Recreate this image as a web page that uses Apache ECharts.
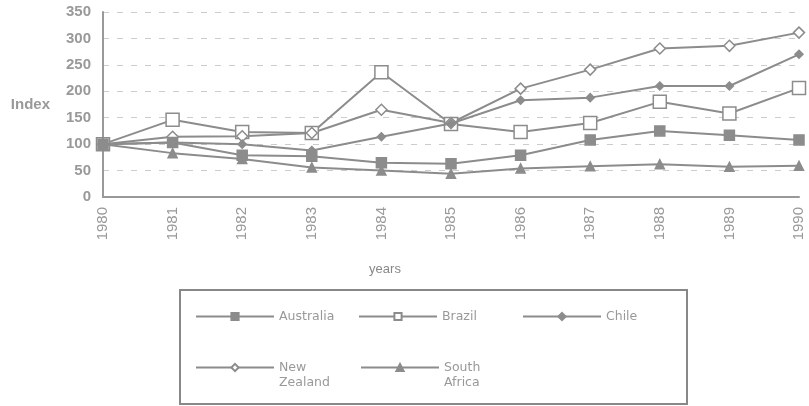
<!DOCTYPE html>
<html>
<head>
<meta charset="utf-8">
<script src="https://cdn.jsdelivr.net/npm/echarts@6/dist/echarts.min.js"></script>
<style>
  html, body { margin: 0; padding: 0; background: #fff; }
  #chart { width: 809px; height: 406px; }
</style>
</head>
<body>
<div id="chart"></div>
<script>
const years = ['1980', '1981', '1982', '1983', '1984', '1985', '1986', '1987', '1988', '1989', '1990']
const australia = [100, 103, 79, 77, 65, 63, 79, 108, 125, 117, 108]
const brazil = [100, 146, 123, 121, 236, 138, 123, 140, 180, 158, 206]
const chile = [100, 103, 100, 88, 114, 139, 183, 188, 210, 210, 270]
const newZealand = [100, 114, 115, 121, 165, 140, 205, 241, 281, 286, 311]
const southAfrica = [100, 83, 72, 56, 50, 44, 54, 58, 62, 57, 59]

const grey = '#8c8c8c'
const font = 'Liberation Sans'
const legendFont = 'DejaVu Sans'

const chart = echarts.init(document.getElementById('chart'))

function series(name, data, symbol, size, filled) {
  return {
    name,
    type: 'line',
    data,
    symbol,
    symbolSize: size,
    showAllSymbol: true,
    lineStyle: { color: grey, width: 2 },
    itemStyle: {
      color: filled ? grey : '#fff',
      borderColor: grey,
      borderWidth: 1.5
    },
    emphasis: { disabled: true },
    z: filled ? 3 : 2
  }
}

const legendText = { color: '#999', fontSize: 12.5, fontFamily: legendFont, lineHeight: 15 }

function legendItem(name, left, top, extra) {
  return Object.assign({
    data: [name],
    left,
    top,
    orient: 'horizontal',
    itemWidth: 78,
    itemHeight: 9,
    itemGap: 0,
    padding: 0,
    textStyle: legendText
  }, extra || {})
}

// blank first line so that the first real line sits level with the symbol
const twoLine = (a, b) => () => '\u00a0\n' + a + '\n' + b

const option = {
  backgroundColor: '#fff',
  animation: false,
  grid: { left: 103, right: 10, top: 12, bottom: 209, outerBoundsMode: 'none' },
  xAxis: {
    type: 'category',
    data: years,
    boundaryGap: false,
    name: 'years',
    nameLocation: 'middle',
    nameGap: 66,
    nameTextStyle: { color: '#888', fontSize: 13, fontFamily: font, padding: [0, 132, 0, 0] },
    axisLine: { lineStyle: { color: '#999', width: 2 } },
    axisTick: { show: false },
    axisLabel: { rotate: 90, color: '#999', fontSize: 15, fontFamily: font, margin: 10 }
  },
  yAxis: {
    type: 'value',
    min: 0,
    max: 350,
    interval: 50,
    name: 'Index',
    nameLocation: 'middle',
    nameRotate: 0,
    nameGap: 53,
    nameTextStyle: { color: '#999', fontSize: 15, fontWeight: 'bold', fontFamily: font, padding: [0, 0, 52, 0] },
    axisLine: { show: true, lineStyle: { color: '#999', width: 2 } },
    axisTick: { show: false },
    axisLabel: { color: '#999', fontSize: 15, fontWeight: 'bold', fontFamily: font, margin: 12 },
    splitLine: { lineStyle: { color: '#ccc', type: [6, 8], width: 1 } }
  },
  legend: [
    legendItem('Australia', 195, 309),
    legendItem('Brazil', 358, 309),
    legendItem('Chile', 522, 309),
    legendItem('New Zealand', 195, 345, { formatter: twoLine('New', 'Zealand') }),
    legendItem('South Africa', 360, 345, { formatter: twoLine('South', 'Africa') })
  ],
  graphic: [{
    type: 'rect',
    shape: { x: 180, y: 290, width: 507, height: 114 },
    style: { fill: 'none', stroke: '#888', lineWidth: 2 },
    silent: true
  }],
  series: [
    series('Australia', australia, 'rect', 10, true),
    series('Brazil', brazil, 'rect', 13, false),
    series('Chile', chile, 'diamond', 8, true),
    series('New Zealand', newZealand, 'diamond', 11, false),
    series('South Africa', southAfrica, 'triangle', 9, true)
  ]
}

chart.setOption(option)
</script>
</body>
</html>
